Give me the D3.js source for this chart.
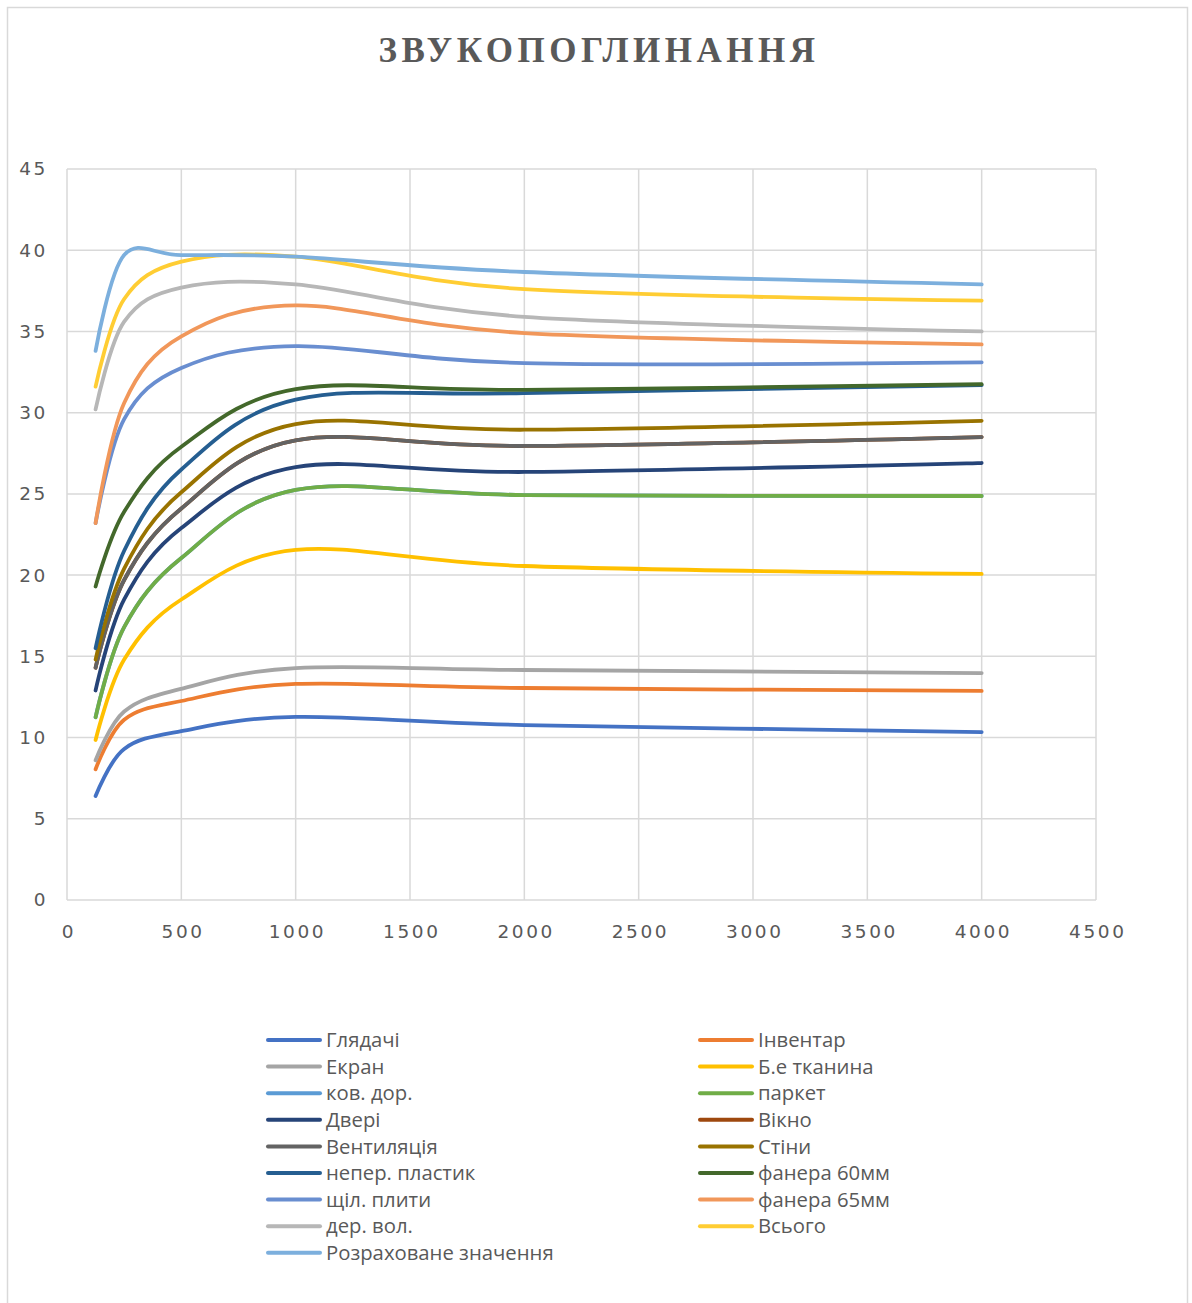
<!DOCTYPE html>
<html>
<head>
<meta charset="utf-8">
<script src="https://cdn.jsdelivr.net/npm/d3@7"></script>
<style>
  body { margin: 0; background: #fff; }
</style>
</head>
<body>
<div id="chart"></div>
<script>
(function () {

  // частоти, Гц
  const freqs = [125, 250, 500, 1000, 2000, 4000]

  const hlyadachi    = [6.4, 9.3, 10.4, 11.27, 10.77, 10.34]
  const inventar     = [8.05, 11.1, 12.25, 13.3, 13.05, 12.87]
  const ekran        = [8.6, 11.6, 13.0, 14.28, 14.16, 13.97]
  const tkanyna      = [9.85, 14.8, 18.5, 21.55, 20.56, 20.07]
  const kovDor       = [11.25, 16.8, 21.05, 25.25, 24.93, 24.87]
  const parket       = [11.25, 16.8, 21.05, 25.25, 24.93, 24.87]
  const dveri        = [12.9, 18.5, 22.9, 26.65, 26.35, 26.9]
  const vikno        = [14.3, 19.7, 24.1, 28.3, 27.95, 28.5]
  const ventyliatsia = [14.3, 19.7, 24.1, 28.3, 27.95, 28.5]
  const stiny        = [14.8, 20.4, 25.1, 29.3, 28.95, 29.5]
  const plastyk      = [15.5, 21.5, 26.5, 30.8, 31.2, 31.7]
  const fanera60     = [19.3, 23.9, 27.9, 31.45, 31.4, 31.75]
  const plyty        = [23.2, 29.6, 32.75, 34.1, 33.05, 33.1]
  const fanera65     = [23.2, 30.6, 34.7, 36.6, 34.9, 34.2]
  const derVol       = [30.2, 35.6, 37.7, 37.9, 35.9, 35.0]
  const vsoho        = [31.6, 37.0, 39.3, 39.6, 37.6, 36.9]
  const rozrakh      = [33.8, 39.7, 39.7, 39.6, 38.66, 37.9]

  const seriesNames = ['Глядачі', 'Інвентар', 'Екран', 'Б.е тканина', 'ков. дор.', 'паркет',
    'Двері', 'Вікно', 'Вентиляція', 'Стіни', 'непер. пластик', 'фанера 60мм',
    'щіл. плити', 'фанера 65мм', 'дер. вол.', 'Всього', 'Розраховане значення']
  const seriesValues = [hlyadachi, inventar, ekran, tkanyna, kovDor, parket, dveri, vikno,
    ventyliatsia, stiny, plastyk, fanera60, plyty, fanera65, derVol, vsoho, rozrakh]

  const xTicks = [0, 500, 1000, 1500, 2000, 2500, 3000, 3500, 4000, 4500]
  const yTicks = [0, 5, 10, 15, 20, 25, 30, 35, 40, 45]

  // Office palette
  const colors = ['#4472C4', '#ED7D31', '#A5A5A5', '#FFC000', '#5B9BD5', '#70AD47',
    '#264478', '#9E480E', '#636363', '#997300', '#255E91', '#43682B',
    '#698ED0', '#F1975A', '#B7B7B7', '#FFCD33', '#7CAFDD']

  const W = 1192, H = 1303
  const margin = { top: 169, right: 96, bottom: 403, left: 67 }
  const width = W - margin.left - margin.right
  const height = H - margin.top - margin.bottom

  const root = d3.select('#chart').append('svg')
    .attr('width', W)
    .attr('height', H)

  // рамка діаграми
  root.append('rect')
    .attr('x', 7.5).attr('y', 7.5)
    .attr('width', 1180).attr('height', 1300)
    .attr('fill', 'none')
    .attr('stroke', '#d9d9d9')
    .attr('stroke-width', 1.5)

  root.append('text')
    .attr('x', 599)
    .attr('y', 62)
    .attr('text-anchor', 'middle')
    .attr('font-family', 'Liberation Serif, Times New Roman, serif')
    .attr('font-weight', 'bold')
    .attr('font-size', 35)
    .attr('letter-spacing', 4.5)
    .attr('fill', '#595959')
    .text('ЗВУКОПОГЛИНАННЯ')

  const svg = root.append('g')
    .attr('transform', 'translate(' + margin.left + ',' + margin.top + ')')

  const xPositionScale = d3.scaleLinear().domain([0, 4500]).range([0, width])
  const yPositionScale = d3.scaleLinear().domain([0, 45]).range([height, 0])

  // сітка
  svg.append('g')
    .selectAll('line')
    .data(yTicks)
    .join('line')
    .attr('x1', 0).attr('x2', width)
    .attr('y1', d => yPositionScale(d)).attr('y2', d => yPositionScale(d))
    .attr('stroke', '#d9d9d9').attr('stroke-width', 1.5)

  svg.append('g')
    .selectAll('line')
    .data(xTicks)
    .join('line')
    .attr('x1', d => xPositionScale(d)).attr('x2', d => xPositionScale(d))
    .attr('y1', 0).attr('y2', height)
    .attr('stroke', '#d9d9d9').attr('stroke-width', 1.5)

  const xAxis = d3.axisBottom(xPositionScale).tickValues(xTicks).tickFormat(d3.format('d'))
    .tickSize(0).tickPadding(25)
  svg.append('g')
    .attr('class', 'axis x-axis')
    .attr('transform', 'translate(0,' + height + ')')
    .call(xAxis)
    .call(g => g.select('.domain').remove())
    .call(g => g.selectAll('text').attr('dx', 1.3))

  const yAxis = d3.axisLeft(yPositionScale).tickValues(yTicks).tickSize(0).tickPadding(19)
  svg.append('g')
    .attr('class', 'axis y-axis')
    .call(yAxis)
    .call(g => g.select('.domain').remove())

  svg.selectAll('.axis text')
    .attr('font-family', 'DejaVu Sans, sans-serif')
    .attr('font-size', 18.5)
    .attr('letter-spacing', 2.6)
    .attr('fill', '#595959')

  const line = d3.line()
    .x((d, i) => xPositionScale(freqs[i]))
    .y(d => yPositionScale(d))
    .curve(d3.curveCardinal.tension(0))

  svg.append('g')
    .selectAll('path')
    .data(seriesValues)
    .join('path')
    .attr('d', d => line(d))
    .attr('fill', 'none')
    .attr('stroke', (d, i) => colors[i])
    .attr('stroke-width', 3.8)
    .attr('stroke-linecap', 'round')
    .attr('stroke-linejoin', 'round')

  // легенда у два стовпці
  const legend = root.append('g')
  const items = legend.selectAll('g')
    .data(seriesNames)
    .join('g')
    .attr('transform', (d, i) => 'translate(' + (i % 2 === 0 ? 268 : 700) + ',' + (1040 + Math.floor(i / 2) * 26.6) + ')')

  items.append('line')
    .attr('x1', 0).attr('x2', 52)
    .attr('stroke', (d, i) => colors[i])
    .attr('stroke-width', 4)
    .attr('stroke-linecap', 'round')

  items.append('text')
    .attr('x', 58)
    .attr('dy', '0.35em')
    .attr('font-family', 'Open Sans, sans-serif')
    .attr('font-size', 20.3)
    .attr('fill', '#595959')
    .text(d => d)

})();
</script>
</body>
</html>
